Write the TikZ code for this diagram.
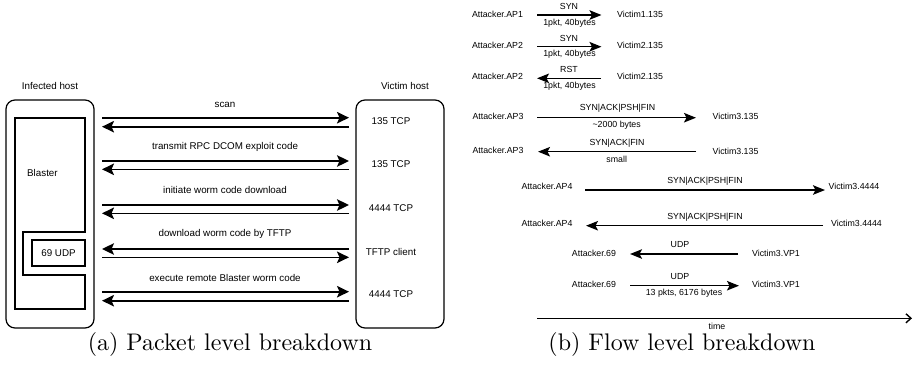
\documentclass[tikz,border=0pt]{standalone}
\usepackage{fontspec}
\newfontfamily\arialfont{Liberation Sans}
\usetikzlibrary{arrows.meta}
\begin{document}
\begin{tikzpicture}[x=1pt,y=-1pt,
  lbl/.style={font=\arialfont\fontsize{9.8}{11}\selectfont, inner sep=0pt},
  rlbl/.style={font=\arialfont\fontsize{8.8}{10}\selectfont, inner sep=0pt},
  bigarr/.style={line width=1.6pt, -{Stealth[length=12pt,width=11.5pt,inset=2.5pt]}},
  smarr/.style={line width=1.4pt, -{Stealth[length=12pt,width=9.5pt,inset=2.5pt]}},
  timearr/.style={line width=1.4pt, -{Straight Barb[length=5pt,width=9pt]}},
  hostbox/.style={draw, line width=1.2pt, rounded corners=9pt, minimum width=88pt, minimum height=228pt, inner sep=0pt},
  capt/.style={scale=2.4, inner sep=0pt, font=\normalsize}
]
\useasboundingbox (0,0) rectangle (913,365);

% ---------------- (a) packet level ----------------
\node[lbl] (inf) at (50,86) {Infected host};
\node[lbl] (vic) at (405,86) {Victim host};
\node[hostbox] (ibox) at (50,214) {};
\node[hostbox] (vbox) at (400,214) {};
\draw[line width=1.2pt] (15,118) -- (85,118) -- (85,232) -- (23,232) -- (23,275)
  -- (85,275) -- (85,309) -- (15,309) -- cycle;
\node[lbl, anchor=west] (blaster) at (27,173) {Blaster};
\node[lbl, draw, line width=1.2pt, minimum width=53pt, minimum height=26pt] (udp69) at (58.5,253) {69 UDP};

% coordinates of arrow ends
\foreach \n/\y in {a/117.7, b/126.7, c/161, d/169.3, e/205, f/213.3, g/249, h/257.3, i/291.7, j/300.7}{
  \coordinate (L\n) at (102,\y);
  \coordinate (R\n) at (349,\y);
}
\draw[bigarr] (La) -- (Ra);
\draw[bigarr] (Rb) -- (Lb);
\draw[bigarr] (Lc) -- (Rc);
\draw[bigarr] (Rd) -- (Ld);
\draw[bigarr] (Le) -- (Re);
\draw[bigarr] (Rf) -- (Lf);
\draw[bigarr] (Rg) -- (Lg);
\draw[bigarr] (Lh) -- (Rh);
\draw[bigarr] (Li) -- (Ri);
\draw[bigarr] (Rj) -- (Lj);

\node[lbl] (m1) at (225,105) {scan};
\node[lbl] (m2) at (225,146.7) {transmit RPC DCOM exploit code};
\node[lbl] (m3) at (225,190) {initiate worm code download};
\node[lbl] (m4) at (225,234.3) {download worm code by TFTP};
\node[lbl] (m5) at (225,277.7) {execute remote Blaster worm code};

\node[lbl] (p1) at (391,121) {135 TCP};
\node[lbl] (p2) at (391,164) {135 TCP};
\node[lbl] (p3) at (391,208) {4444 TCP};
\node[lbl] (p4) at (391,252) {TFTP client};
\node[lbl] (p5) at (391,294.5) {4444 TCP};

\node[capt] (capa) at (230,344.5) {(a) Packet level breakdown};

% ---------------- (b) flow level ----------------
% row 1
\node[rlbl] (s1) at (497.5,14) {Attacker.AP1};
\node[rlbl] (d1) at (640,14) {Victim1.135};
\coordinate (s1a) at (537,15); \coordinate (d1a) at (601.5,15);
\draw[smarr] (s1a) -- (d1a);
\node[rlbl] (t1) at (569,6) {SYN};
\node[rlbl] (b1) at (569.5,23.3) {1pkt, 40bytes};
% row 2
\node[rlbl] (s2) at (497.5,45) {Attacker.AP2};
\node[rlbl] (d2) at (640,45) {Victim2.135};
\coordinate (s2a) at (537,46.7); \coordinate (d2a) at (601.5,46.7);
\draw[smarr] (s2a) -- (d2a);
\node[rlbl] (t2) at (569,38.3) {SYN};
\node[rlbl] (b2) at (569.5,54.5) {1pkt, 40bytes};
% row 3
\node[rlbl] (s3) at (497.5,76.7) {Attacker.AP2};
\node[rlbl] (d3) at (640,76.7) {Victim2.135};
\coordinate (s3a) at (537,78.3); \coordinate (d3a) at (601,78.3);
\draw[smarr] (d3a) -- (s3a);
\node[rlbl] (t3) at (569,69.3) {RST};
\node[rlbl] (b3) at (569.5,86.7) {1pkt, 40bytes};
% row 4
\node[rlbl] (s4) at (498,116.5) {Attacker.AP3};
\node[rlbl] (d4) at (735.5,116) {Victim3.135};
\coordinate (s4a) at (537,117.7); \coordinate (d4a) at (696,117.7);
\draw[smarr] (s4a) -- (d4a);
\node[rlbl] (t4) at (617.5,108.3) {SYN|ACK|PSH|FIN};
\node[rlbl] (b4) at (616.7,125) {\textasciitilde2000 bytes};
% row 5
\node[rlbl] (s5) at (498,150.5) {Attacker.AP3};
\node[rlbl] (d5) at (735.5,151) {Victim3.135};
\coordinate (s5a) at (538,151.7); \coordinate (d5a) at (696,151.7);
\draw[smarr] (d5a) -- (s5a);
\node[rlbl] (t5) at (617,143.3) {SYN|ACK|FIN};
\node[rlbl] (b5) at (616.7,159) {small};
% row 6
\node[rlbl] (s6) at (547,186) {Attacker.AP4};
\node[rlbl] (d6) at (854,186) {Victim3.4444};
\coordinate (s6a) at (585,190); \coordinate (d6a) at (825,190);
\draw[smarr] (s6a) -- (d6a);
\node[rlbl] (t6) at (705,181) {SYN|ACK|PSH|FIN};
% row 7
\node[rlbl] (s7) at (547,223.3) {Attacker.AP4};
\node[rlbl] (d7) at (856.5,223.3) {Victim3.4444};
\coordinate (s7a) at (586,225.7); \coordinate (d7a) at (823,225.7);
\draw[smarr] (d7a) -- (s7a);
\node[rlbl] (t7) at (705,217.3) {SYN|ACK|PSH|FIN};
% row 8
\node[rlbl] (s8) at (594,253.3) {Attacker.69};
\node[rlbl] (d8) at (776,253.3) {Victim3.VP1};
\coordinate (s8a) at (630,254); \coordinate (d8a) at (738,254);
\draw[smarr] (d8a) -- (s8a);
\node[rlbl] (t8) at (680,245) {UDP};
% row 9
\node[rlbl] (s9) at (594,284.3) {Attacker.69};
\node[rlbl] (d9) at (776,284.3) {Victim3.VP1};
\coordinate (s9a) at (630,285.7); \coordinate (d9a) at (739,285.7);
\draw[smarr] (s9a) -- (d9a);
\node[rlbl] (t9) at (680,276.7) {UDP};
\node[rlbl] (b9) at (684,293.3) {13 pkts, 6176 bytes};
% time axis
\coordinate (ts) at (537,318.3); \coordinate (te) at (912,318.3);
\draw[timearr] (ts) -- (te);
\node[rlbl] (time) at (717,326) {time};

\node[capt] (capb) at (682,344.5) {(b) Flow level breakdown};
\end{tikzpicture}
\end{document}
